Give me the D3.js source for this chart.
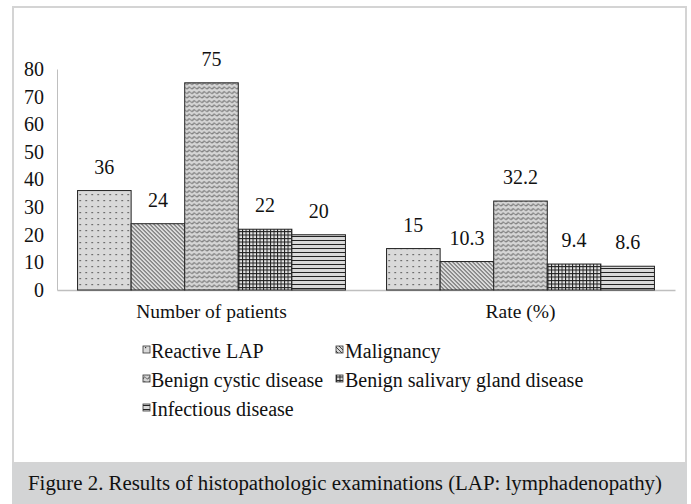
<!DOCTYPE html>
<meta charset="utf-8">
<head>
<title>Figure 2</title>
<script src="https://d3js.org/d3.v7.min.js"></script>
<style>
  body { margin: 0; background: #fff; }
  svg text { font-family: "Liberation Serif", "Times New Roman", serif; fill: #111; }
</style>
</head>
<body>
<div id="chart"></div>
<script>

// data
var categories = ["Number of patients", "Rate (%)"];
var seriesNames = ["Reactive LAP", "Malignancy", "Benign cystic disease", "Benign salivary gland disease", "Infectious disease"];
var patients = [36, 24, 75, 22, 20];
var rates = [15, 10.3, 32.2, 9.4, 8.6];
var yTicks = [0, 10, 20, 30, 40, 50, 60, 70, 80];
var caption = "Figure 2. Results of histopathologic examinations (LAP: lymphadenopathy)";

var W = 691, H = 504;
var margin = {top: 69, left: 57, right: 16, bottom: 214};

var svg = d3.select("#chart").append("svg")
    .attr("width", W)
    .attr("height", H);

// patterns, one per series
var defs = svg.append("defs");
var patIds = ["pDots", "pDiag", "pWave", "pGrid", "pHoriz"];

var p1 = defs.append("pattern").attr("id", "pDots").attr("patternUnits", "userSpaceOnUse")
  .attr("width", 6).attr("height", 6);
p1.append("rect").attr("width", 6).attr("height", 6).attr("fill", "#d9d9d9");
p1.append("rect").attr("x", 2).attr("y", 2).attr("width", 1.2).attr("height", 1.2).attr("fill", "#333");

var p2 = defs.append("pattern").attr("id", "pDiag").attr("patternUnits", "userSpaceOnUse")
  .attr("width", 4).attr("height", 4);
p2.append("rect").attr("width", 4).attr("height", 4).attr("fill", "#d9d9d9");
p2.append("path").attr("d", "M-1,-1 L5,5 M-1,3 L1,5 M3,-1 L5,1").attr("stroke", "#333").attr("stroke-width", 0.9);

// zigzag waves
var p3 = defs.append("pattern").attr("id", "pWave").attr("patternUnits", "userSpaceOnUse")
  .attr("width", 5).attr("height", 4.5);
p3.append("rect").attr("width", 5).attr("height", 4.5).attr("fill", "#d6d6d6");
p3.append("path").attr("d", "M0,3.6 Q1.25,0.2 2.5,2 T5,3.6").attr("fill", "none")
  .attr("stroke", "#3a3a3a").attr("stroke-width", 0.8);

var p4 = defs.append("pattern").attr("id", "pGrid").attr("patternUnits", "userSpaceOnUse")
  .attr("width", 3.5).attr("height", 3.5);
p4.append("rect").attr("width", 3.5).attr("height", 3.5).attr("fill", "#e6e6e6");
p4.append("path").attr("d", "M0,0.5 H3.5 M0.5,0 V3.5").attr("stroke", "#222").attr("stroke-width", 1);

var p5 = defs.append("pattern").attr("id", "pHoriz").attr("patternUnits", "userSpaceOnUse")
  .attr("width", 4).attr("height", 4);
p5.append("rect").attr("width", 4).attr("height", 4).attr("fill", "#d9d9d9");
p5.append("path").attr("d", "M0,0.5 H4").attr("stroke", "#222").attr("stroke-width", 1);

// frame + caption band
svg.append("rect")
  .attr("x", 13).attr("y", 7).attr("width", 673).attr("height", 456)
  .attr("fill", "#fff").attr("stroke", "#d4d4d4").attr("stroke-width", 2);
svg.append("rect")
  .attr("x", 12).attr("y", 463).attr("width", 675).attr("height", 41)
  .attr("fill", "#d3d4d5");
svg.append("text")
  .attr("x", 345).attr("y", 490)
  .attr("text-anchor", "middle")
  .attr("textLength", 634)
  .attr("lengthAdjust", "spacingAndGlyphs")
  .style("font-size", "20px")
  .text(caption);

// scales
var x0 = d3.scaleBand()
  .domain(categories)
  .range([margin.left, W - margin.right])
  .paddingInner(0.133)
  .paddingOuter(0.0665);

var x1 = d3.scaleBand()
  .domain(seriesNames)
  .range([0, x0.bandwidth()]);

var y = d3.scaleLinear()
  .domain([0, 80])
  .range([H - margin.bottom, margin.top]);

// y axis
var yAxis = svg.append("g")
  .attr("transform", "translate(" + margin.left + ",0)")
  .call(d3.axisLeft(y).tickValues(yTicks).tickSize(0).tickPadding(13));
yAxis.select(".domain").attr("stroke", "#bfbfbf");
yAxis.selectAll("text").style("font-size", "20px").attr("font-family", null);

// x axis
var xAxis = svg.append("g")
  .attr("transform", "translate(0," + y(0) + ")")
  .call(d3.axisBottom(x0).tickSize(0).tickPadding(14).tickSizeOuter(0));
xAxis.select(".domain").attr("stroke", "#bfbfbf").attr("stroke-width", 1.5);
xAxis.selectAll("text").style("font-size", "19.5px").attr("font-family", null);

// bars
var rows = [patients, rates];
categories.forEach(function(cat, ci) {
  var g = svg.append("g").attr("transform", "translate(" + x0(cat) + ",0)");
  var data = seriesNames.map(function(s, si) { return {name: s, idx: si, value: rows[ci][si]}; });

  g.selectAll("rect")
    .data(data)
    .enter()
    .append("rect")
    .attr("x", function(d) { return x1(d.name); })
    .attr("y", function(d) { return y(d.value); })
    .attr("width", x1.bandwidth())
    .attr("height", function(d) { return y(0) - y(d.value); })
    .attr("fill", function(d) { return "url(#" + patIds[d.idx] + ")"; })
    .attr("stroke", "#222")
    .attr("stroke-width", 1);

  g.selectAll(".lbl")
    .data(data)
    .enter()
    .append("text")
    .attr("class", "lbl")
    .attr("x", function(d) { return x1(d.name) + x1.bandwidth() / 2; })
    .attr("y", function(d) { return y(d.value) - 17; })
    .attr("text-anchor", "middle")
    .style("font-size", "20px")
    .text(function(d) { return d.value; });
});

// legend
var legPos = [[143, 351], [336, 351], [143, 380], [336, 380], [143, 409]];
var leg = svg.append("g");
seriesNames.forEach(function(s, i) {
  var item = leg.append("g").attr("transform", "translate(" + legPos[i][0] + "," + legPos[i][1] + ")");
  item.append("rect")
    .attr("x", 0).attr("y", -5).attr("width", 7).attr("height", 7)
    .attr("fill", "url(#" + patIds[i] + ")")
    .attr("stroke", "#333").attr("stroke-width", 0.8);
  item.append("text")
    .attr("x", i % 2 === 0 ? 8 : 9)
    .attr("y", 6.5)
    .style("font-size", "20px")
    .text(s);
});

</script>
</body>
